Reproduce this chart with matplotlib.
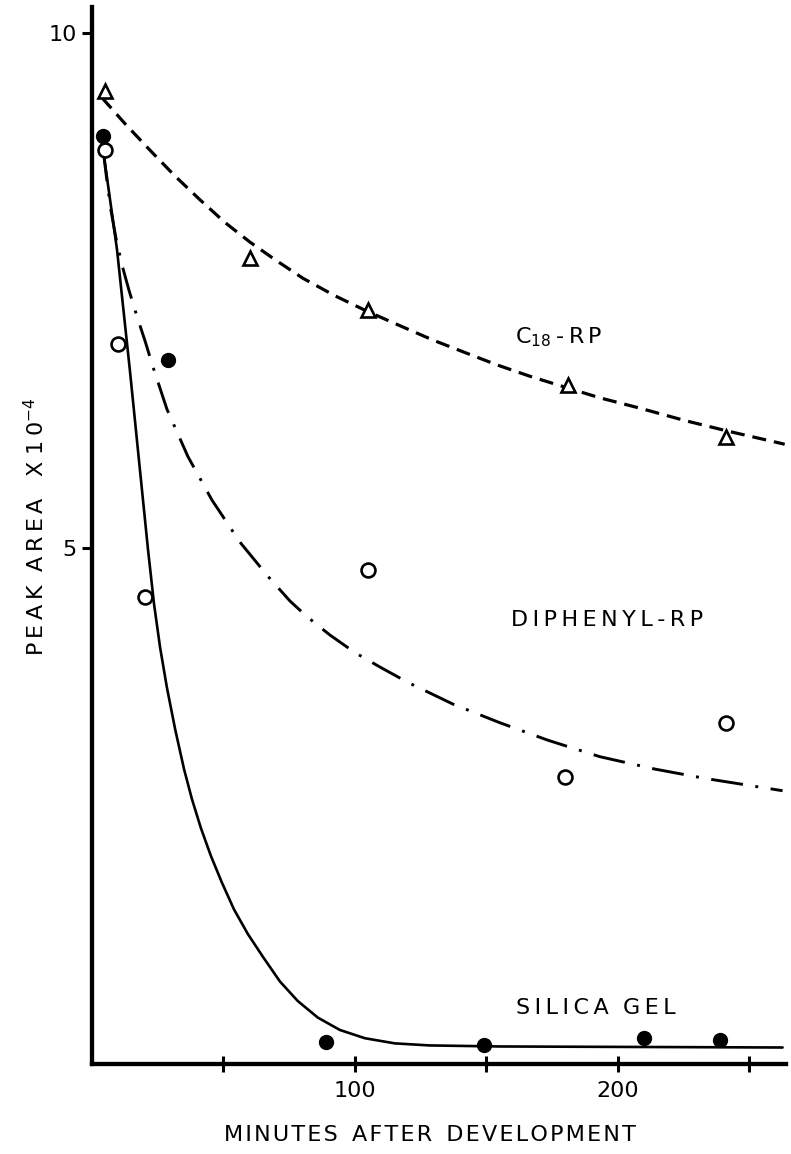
import matplotlib
matplotlib.use("Agg")
import matplotlib.pyplot as plt

# Measured points (minutes after development, peak area x 1e-4)
c18_t = [5, 60, 105, 181, 241]
c18_area = [9.44, 7.82, 7.31, 6.58, 6.08]

diphenyl_t = [5, 10, 20, 105, 180, 241]
diphenyl_area = [8.86, 6.98, 4.53, 4.79, 2.78, 3.31]

silica_t = [4, 29, 89, 149, 210, 239]
silica_area = [9.00, 6.83, 0.21, 0.18, 0.25, 0.23]

# Hand-drawn trend curves
c18_curve_t = [3.8, 12.5, 22.1, 31.6, 41.1, 50.6, 60.1, 69.6, 80.2, 92.4,
               104.6, 117.1, 129.7, 141.8, 154.0, 166.5, 179.1, 193.2, 208.4,
               225.5, 241.4, 263.5]
c18_curve_area = [9.37, 9.12, 8.86, 8.61, 8.38, 8.16, 7.97, 7.80, 7.62, 7.45,
                  7.30, 7.16, 7.02, 6.90, 6.78, 6.67, 6.57, 6.46, 6.36, 6.24,
                  6.14, 6.01]

diphenyl_curve_t = [4.2, 5.7, 7.2, 9.1, 11.4, 14.1, 17.1, 20.2, 23.2, 28.5,
                    36.5, 45.6, 56.3, 66.9, 75.3, 81.7, 90.5, 100.0, 109.5,
                    120.2, 137.3, 155.1, 173.4, 193.2, 214.1, 233.1, 262.7]
diphenyl_curve_area = [8.87, 8.56, 8.28, 8.01, 7.75, 7.50, 7.25, 7.01, 6.76,
                       6.35, 5.89, 5.47, 5.06, 4.73, 4.49, 4.34, 4.16, 3.99,
                       3.85, 3.70, 3.49, 3.31, 3.14, 2.98, 2.86, 2.77, 2.65]

silica_curve_t = [3.4, 4.2, 9.5, 14.4, 18.6, 21.3, 23.6, 25.9, 28.5, 31.6,
                  35.0, 38.0, 41.4, 45.2, 49.4, 54.0, 59.3, 65.0, 71.5, 78.3,
                  85.9, 94.3, 103.8, 115.2, 128.5, 155.1, 262.7]
silica_curve_area = [8.96, 8.87, 7.90, 6.73, 5.67, 4.99, 4.46, 4.04, 3.65,
                     3.25, 2.86, 2.57, 2.29, 2.02, 1.76, 1.50, 1.26, 1.04,
                     0.80, 0.61, 0.45, 0.33, 0.25, 0.20, 0.18, 0.17, 0.16]

x_ticks = [50, 100, 150, 200, 250]
x_tick_labels = ["", "100", "", "200", ""]
y_ticks = [5, 10]
y_tick_labels = ["5", "10"]

plt.rcParams["font.family"] = ["DejaVu Sans"]
plt.rcParams["mathtext.fontset"] = "dejavusans"

THIN = "\u2009"
HAIR = "\u200a"


def spaced(s, gap=THIN, word_gap="  "):
    """Open up the lettering: a small space between the letters of each word."""
    return word_gap.join(gap.join(word) for word in s.split(" "))


fig = plt.figure(figsize=(7.91, 11.54), dpi=100)
ax = fig.add_axes([92 / 791, 90 / 1154, 694 / 791, 1057 / 1154])

ax.plot(c18_curve_t, c18_curve_area, color="black", lw=2.3,
        linestyle=(0, (4.4, 2.5)))
ax.plot(diphenyl_curve_t, diphenyl_curve_area, color="black", lw=2.1,
        linestyle=(0, (11, 4.3, 1.0, 4.3)))
ax.plot(silica_curve_t, silica_curve_area, color="black", lw=1.9,
        solid_capstyle="round", solid_joinstyle="round")

ax.plot(c18_t, c18_area, linestyle="none", marker="^", markersize=10,
        markerfacecolor="white", markeredgecolor="black", markeredgewidth=1.9)
ax.plot(diphenyl_t, diphenyl_area, linestyle="none", marker="o", markersize=10,
        markerfacecolor="white", markeredgecolor="black", markeredgewidth=1.9)
ax.plot(silica_t, silica_area, linestyle="none", marker="o", markersize=10,
        markerfacecolor="black", markeredgecolor="black")

ax.set_xlim(0, 264)
ax.set_ylim(0, 10.25)

for side in ("top", "right"):
    ax.spines[side].set_visible(False)
for side in ("left", "bottom"):
    ax.spines[side].set_linewidth(3.1)

ax.set_xticks(x_ticks)
ax.set_xticklabels(x_tick_labels)
ax.set_yticks(y_ticks)
ax.set_yticklabels(y_tick_labels)
ax.tick_params(axis="x", direction="inout", length=12, width=2.2,
               labelsize=16, pad=6)
ax.tick_params(axis="y", direction="out", length=7, width=2.2,
               labelsize=16, pad=4)

ax.text(160.8, 7.05, r"C$_{18}$" + THIN + "-" + THIN + "R" + THIN + "P",
        fontsize=16, ha="left", va="center")
ax.text(195.8, 4.31, spaced("DIPHENYL-RP"), fontsize=16,
        ha="center", va="center")
ax.text(191.6, 0.54, spaced("SILICA GEL"), fontsize=16,
        ha="center", va="center")

fig.text(36 / 791, 1 - 527 / 1154,
         spaced("PEAK AREA") + "   " + spaced("X 10", word_gap=" ")
         + r"$^{-4}$",
         fontsize=16, rotation=90, ha="center", va="center")
fig.text(430 / 791, 1 - 1135 / 1154,
         spaced("MINUTES AFTER DEVELOPMENT", gap=HAIR),
         fontsize=16, ha="center", va="center")

fig.savefig("out.png", dpi=100)
